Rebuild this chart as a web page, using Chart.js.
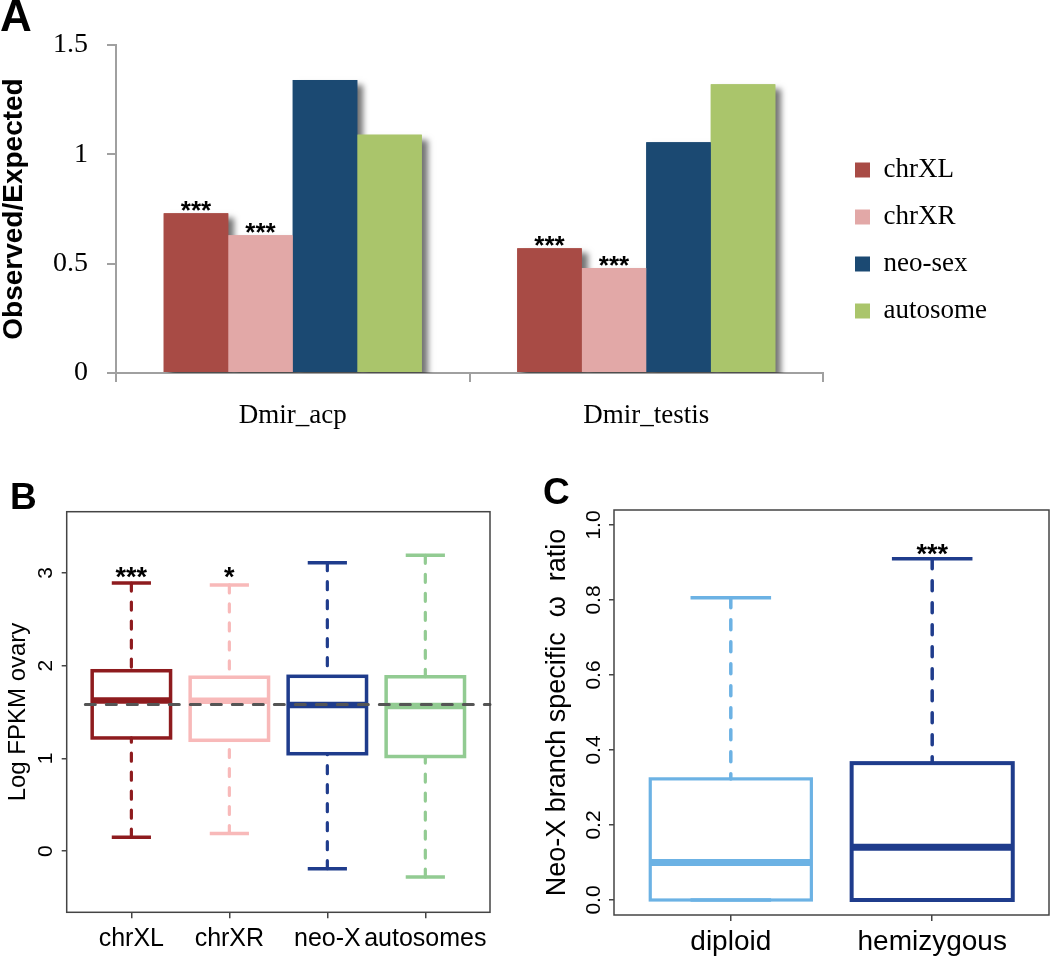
<!DOCTYPE html>
<html>
<head>
<meta charset="utf-8">
<script src="https://cdn.jsdelivr.net/npm/chart.js@4.4.1/dist/chart.umd.min.js"></script>
<style>
  body { margin: 0; background: #fff; }
  #wrap { position: relative; width: 1050px; height: 958px; overflow: hidden; }
  .panel { position: absolute; }
  .tag { position: absolute; font-family: "Liberation Sans", Arial, sans-serif; font-weight: bold; line-height: 1; color: #000; }
</style>
</head>
<body>
<div id="wrap">
  <div class="panel" style="left:0;top:0;width:1050px;height:450px"><canvas id="chartA"></canvas></div>
  <div class="panel" style="left:0;top:460px;width:525px;height:498px"><canvas id="chartB"></canvas></div>
  <div class="panel" style="left:525px;top:460px;width:525px;height:498px"><canvas id="chartC"></canvas></div>
  <div class="tag" style="left:0;top:-6px;font-size:44px">A</div>
  <div class="tag" style="left:10px;top:478px;font-size:37px">B</div>
  <div class="tag" style="left:543px;top:473px;font-size:37px">C</div>
</div>
<script>
// panel A: observed / expected ratios
const groupsA = ['Dmir_acp', 'Dmir_testis'];
const chrXL = [0.73, 0.57];
const chrXR = [0.63, 0.48];
const neoSex = [1.34, 1.055];
const autosome = [1.09, 1.32];
const yTicksA = [0, 0.5, 1, 1.5];
const starsXL = ['***', '***'];
const starsXR = ['***', '***'];

// panel B: log FPKM ovary boxplots
const groupsB = ['chrXL', 'chrXR', 'neo-X', 'autosomes'];
const lowB = [0.15, 0.19, -0.19, -0.28];
const q1B = [1.22, 1.195, 1.05, 1.02];
const medB = [1.625, 1.62, 1.575, 1.565];
const q3B = [1.945, 1.875, 1.885, 1.88];
const highB = [2.89, 2.87, 3.11, 3.19];
const starsB = ['***', '*', '', ''];
const yTicksB = [0, 1, 2, 3];
const refB = 1.58;

// panel C: neo-X branch omega
const groupsC = ['diploid', 'hemizygous'];
const lowC = [0, 0];
const q1C = [0, 0];
const medC = [0.10, 0.141];
const q3C = [0.323, 0.365];
const highC = [0.806, 0.91];
const starsC = ['', '***'];
const yTicksC = [0, 0.2, 0.4, 0.6, 0.8, 1.0];

const sans = "'Liberation Sans', Arial, sans-serif";
const serif = "'Liberation Serif', 'DejaVu Serif', serif";
Chart.defaults.font.family = sans;
Chart.defaults.color = '#000';

const barShadow = {
    id: 'barShadow',
    beforeDatasetsDraw(chart) {
        const ctx = chart.ctx;
        const a = chart.chartArea;
        ctx.save();
        ctx.beginPath();
        ctx.rect(a.left, a.top - 20, a.right - a.left + 20, a.bottom - a.top + 20);
        ctx.clip();
        ctx.shadowColor = 'rgba(0,0,0,0.55)';
        ctx.shadowBlur = 6;
        ctx.shadowOffsetX = 6;
        ctx.shadowOffsetY = 5;
        chart.data.datasets.forEach((ds, i) => {
            chart.getDatasetMeta(i).data.forEach(bar => {
                const p = bar.getProps(['x', 'y', 'base', 'width'], true);
                ctx.fillStyle = ds.backgroundColor;
                ctx.fillRect(p.x - p.width / 2, p.y, p.width, p.base - p.y);
            });
        });
        ctx.restore();
    }
};

const barStars = {
    id: 'barStars',
    afterDatasetsDraw(chart) {
        const ctx = chart.ctx;
        ctx.save();
        ctx.font = 'bold 26px ' + sans;
        ctx.textAlign = 'center';
        ctx.fillStyle = '#000';
        [starsXL, starsXR].forEach((marks, i) => {
            chart.getDatasetMeta(i).data.forEach((bar, j) => {
                if (marks[j]) ctx.fillText(marks[j], bar.x, bar.y + 6);
            });
        });
        ctx.restore();
    }
};

new Chart(document.getElementById('chartA'), {
    type: 'bar',
    data: {
        labels: groupsA,
        datasets: [
            { label: 'chrXL', data: chrXL, backgroundColor: '#A84B45' },
            { label: 'chrXR', data: chrXR, backgroundColor: '#E2A8A7' },
            { label: 'neo-sex', data: neoSex, backgroundColor: '#1B4972' },
            { label: 'autosome', data: autosome, backgroundColor: '#AAC56B' }
        ]
    },
    options: {
        responsive: true,
        maintainAspectRatio: false,
        animation: false,
        layout: { padding: { top: 45, right: 53, bottom: 0, left: 0 } },
        datasets: { bar: { categoryPercentage: 0.73, barPercentage: 1.0, borderWidth: 0 } },
        plugins: {
            tooltip: { enabled: false },
            legend: {
                position: 'right',
                align: 'center',
                fullSize: false,
                title: { display: true, text: ' ', font: { size: 10 }, padding: { top: 0, bottom: 51 } },
                labels: {
                    font: { family: serif, size: 27 },
                    color: '#000',
                    boxWidth: 15,
                    boxHeight: 15,
                    padding: 20
                }
            }
        },
        scales: {
            x: {
                afterFit: s => { s.height = 77; },
                ticks: { font: { family: serif, size: 27 }, color: '#000', padding: 18 },
                grid: { drawOnChartArea: false, tickLength: 9, color: '#a0a0a0', lineWidth: 2 },
                border: { color: '#a0a0a0', width: 2 }
            },
            y: {
                min: 0,
                max: 1.5,
                afterBuildTicks: s => { s.ticks = yTicksA.map(v => ({ value: v })); },
                afterFit: s => { s.width = 116; },
                ticks: { callback: v => String(v), font: { family: serif, size: 28 }, color: '#000', padding: 19 },
                grid: { drawOnChartArea: false, tickLength: 9, color: '#a0a0a0', lineWidth: 2 },
                border: { color: '#a0a0a0', width: 2 },
                title: {
                    display: true,
                    text: 'Observed/Expected',
                    font: { family: sans, size: 28, weight: 'bold', lineHeight: 1 },
                    padding: { top: 0, bottom: 0 },
                    color: '#000'
                }
            },
            // empty spacer between the plot and the legend
            gap: {
                position: 'right',
                afterFit: s => { s.width = 12; },
                ticks: { display: false },
                grid: { display: false },
                border: { display: false }
            }
        }
    },
    plugins: [barShadow, barStars]
});

const boxDraw = {
    id: 'boxDraw',
    afterDatasetsDraw(chart, args, o) {
        const { ctx, chartArea: a } = chart;
        const x = chart.scales.x, y = chart.scales.y;
        const seg = (x1, y1, x2, y2) => { ctx.beginPath(); ctx.moveTo(x1, y1); ctx.lineTo(x2, y2); ctx.stroke(); };
        ctx.save();
        o.low.forEach((lo, i) => {
            const c = i + 1;
            const xc = x.getPixelForValue(c);
            const xl = x.getPixelForValue(c - 0.4), xr = x.getPixelForValue(c + 0.4);
            const cl = x.getPixelForValue(c - 0.2), cr = x.getPixelForValue(c + 0.2);
            const pLo = y.getPixelForValue(lo), pQ1 = y.getPixelForValue(o.q1[i]);
            const pMed = y.getPixelForValue(o.med[i]), pQ3 = y.getPixelForValue(o.q3[i]);
            const pHi = y.getPixelForValue(o.high[i]);
            ctx.strokeStyle = o.colors[i];
            ctx.lineWidth = o.whiskerW;
            ctx.lineCap = 'round';
            ctx.setLineDash(o.dash);
            seg(xc, pHi, xc, pQ3);
            if (pLo - pQ1 > 1) seg(xc, pLo, xc, pQ1);
            ctx.setLineDash([]);
            ctx.lineCap = 'butt';
            ctx.lineWidth = o.capW;
            seg(cl, pHi, cr, pHi);
            seg(cl, pLo, cr, pLo);
            ctx.lineWidth = o.boxW[i];
            ctx.strokeRect(xl, pQ3, xr - xl, pQ1 - pQ3);
            ctx.lineWidth = o.medW;
            seg(xl, pMed, xr, pMed);
            if (o.stars[i]) {
                ctx.fillStyle = '#000';
                ctx.font = 'bold 27px ' + sans;
                ctx.textAlign = 'center';
                ctx.fillText(o.stars[i], xc, y.getPixelForValue(o.starY) + 15);
            }
        });
        if (o.ref !== undefined) {
            ctx.strokeStyle = '#555';
            ctx.lineWidth = 3;
            ctx.lineCap = 'round';
            ctx.setLineDash([10, 11]);
            const py = y.getPixelForValue(o.ref);
            seg(x.getPixelForValue(o.refFrom), py, a.right, py);
            ctx.setLineDash([]);
        }
        ctx.strokeStyle = '#444';
        ctx.lineWidth = 1.5;
        ctx.strokeRect(a.left, a.top, a.right - a.left, a.bottom - a.top);
        ctx.restore();
    }
};

function boxChart(id, c) {
    return new Chart(document.getElementById(id), {
        type: 'scatter',
        data: { datasets: [] },
        options: {
            responsive: true,
            maintainAspectRatio: false,
            animation: false,
            layout: { padding: c.pad },
            plugins: { legend: { display: false }, tooltip: { enabled: false }, boxDraw: c.box },
            scales: {
                x: {
                    type: 'linear',
                    min: c.xmin,
                    max: c.xmax,
                    afterBuildTicks: s => { s.ticks = c.labels.map((_, i) => ({ value: i + 1 })); },
                    afterFit: s => { s.height = c.xh; },
                    ticks: { callback: v => c.labels[v - 1], font: { size: c.xfont }, color: '#000', padding: c.xpad, maxRotation: 0, autoSkip: false },
                    grid: { drawOnChartArea: false, tickLength: 6, color: '#444', lineWidth: 1.5 },
                    border: { display: false }
                },
                y: {
                    min: c.ymin,
                    max: c.ymax,
                    afterBuildTicks: s => { s.ticks = c.yticks.map(v => ({ value: v })); },
                    afterFit: s => { s.width = c.yw; },
                    ticks: { callback: c.yfmt, minRotation: 90, maxRotation: 90, crossAlign: 'center', padding: c.ypad, font: { size: 21 }, color: '#000' },
                    grid: { drawOnChartArea: false, tickLength: 5, color: '#444', lineWidth: 1.5 },
                    border: { display: false },
                    title: { display: true, text: c.title, font: { size: c.tfont, lineHeight: 1 }, padding: { top: c.tpad, bottom: 0 }, color: '#000' }
                }
            }
        },
        plugins: [boxDraw]
    });
}

boxChart('chartB', {
    pad: { top: 51.7, right: 35, bottom: 0, left: 0 },
    labels: groupsB, xmin: 0.34, xmax: 4.66, xh: 45.7, xfont: 25, xpad: 6,
    ymin: -0.66, ymax: 3.66, yticks: yTicksB, yw: 66.7, ypad: 10, yfmt: v => String(v),
    title: 'Log FPKM ovary', tfont: 24, tpad: 6.6,
    box: {
        low: lowB, q1: q1B, med: medB, q3: q3B, high: highB, stars: starsB, starY: 3.02,
        colors: ['#8E1B1E', '#F8B9B9', '#1F3C8C', '#92CB92'],
        boxW: [3.5, 3.5, 3.5, 3.5], medW: 6.5, capW: 3.5, whiskerW: 3.2, dash: [8, 11],
        ref: refB, refFrom: 0.53
    }
});

boxChart('chartC', {
    pad: { top: 50, right: 1, bottom: 0, left: 0 },
    labels: groupsC, xmin: 0.42, xmax: 2.58, xh: 43, xfont: 28, xpad: 4,
    ymin: -0.04, ymax: 1.04, yticks: yTicksC, yw: 89, ypad: 0, yfmt: v => v.toFixed(1),
    title: 'Neo-X branch specific  \u03C9  ratio', tfont: 27, tpad: 19,
    box: {
        low: lowC, q1: q1C, med: medC, q3: q3C, high: highC, stars: starsC, starY: 0.939,
        colors: ['#6CB2E4', '#1F3C8C'],
        boxW: [3.2, 4], medW: 7, capW: 3.5, whiskerW: 3.5, dash: [10, 12]
    }
});
</script>
</body>
</html>
